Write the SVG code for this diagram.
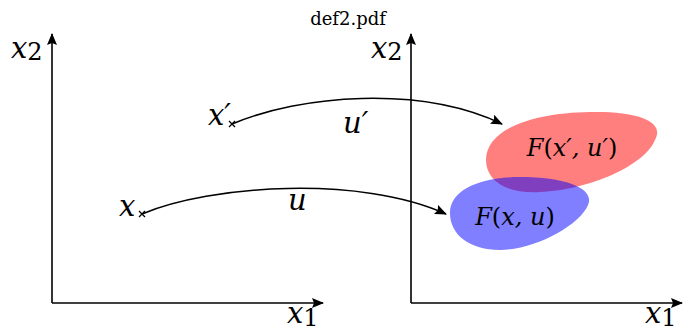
<svg xmlns="http://www.w3.org/2000/svg" width="697" height="333" viewBox="0 0 697 333">
<style>
.ax{stroke:#000;stroke-width:1.6;fill:none}
.cv{stroke:#000;stroke-width:1.5;fill:none}
.cr{stroke:#000;stroke-width:1.3}
</style>
<defs>
<marker id="ah" viewBox="0 0 12 10" refX="11" refY="5" markerWidth="12" markerHeight="10" markerUnits="userSpaceOnUse" orient="auto">
<path d="M0,0 L12,5 L0,10 L2,5 Z" fill="#000"/>
</marker>
</defs>
<rect width="697" height="333" fill="#fff"/>
<g font-family="'DejaVu Serif', 'Liberation Serif', serif" fill="#000">
<text x="348" y="25" font-size="18" text-anchor="middle">def2.pdf</text>
</g>
<g id="left-axes" font-family="'DejaVu Serif', 'Liberation Serif', serif" fill="#000">
<path class="ax" d="M52,303 L52,34" marker-end="url(#ah)"/>
<path class="ax" d="M52,303 L323,303" marker-end="url(#ah)"/>
<text x="11" y="58" font-size="29" font-style="italic">x<tspan font-style="normal" font-size="24" dy="2">2</tspan></text>
<text x="287" y="323" font-size="29" font-style="italic">x<tspan font-style="normal" font-size="24" dy="3">1</tspan></text>
</g>
<g id="right-axes" font-family="'DejaVu Serif', 'Liberation Serif', serif" fill="#000">
<path class="ax" d="M411,303 L411,34" marker-end="url(#ah)"/>
<path class="ax" d="M411,303 L682,303" marker-end="url(#ah)"/>
<text x="371" y="58" font-size="29" font-style="italic">x<tspan font-style="normal" font-size="24" dy="2">2</tspan></text>
<text x="645" y="323" font-size="29" font-style="italic">x<tspan font-style="normal" font-size="24" dy="3">1</tspan></text>
</g>
<g id="set-Fxpup">
<path d="M486,160 C486,130 530,113 590,112 C640,111 665,122 655,140 C645,165 590,190 540,192 C505,194 486,180 486,160 Z" fill="#ff0000" fill-opacity="0.5"/>
</g>
<g id="set-Fxu">
<path d="M450,213 C450,190 480,177 520,177 C570,177 595,190 588,205 C580,225 535,250 500,250 C470,250 450,235 450,213 Z" fill="#0000ff" fill-opacity="0.5"/>
</g>
<g font-family="'DejaVu Serif', 'Liberation Serif', serif" fill="#000" font-size="24" text-anchor="middle">
<text x="572" y="156" font-style="italic">F<tspan font-style="normal">(</tspan>x′, u′<tspan font-style="normal">)</tspan></text>
<text x="515" y="225" font-style="italic">F<tspan font-style="normal">(</tspan>x, u<tspan font-style="normal">)</tspan></text>
</g>
<g id="point-xp" font-family="'DejaVu Serif', 'Liberation Serif', serif" fill="#000">
<path class="cr" d="M229,121 L235,127 M235,121 L229,127"/>
<text x="208" y="125" font-size="29" font-style="italic">x′</text>
</g>
<g id="point-x" font-family="'DejaVu Serif', 'Liberation Serif', serif" fill="#000">
<path class="cr" d="M139,211 L145,217 M145,211 L139,217"/>
<text x="119" y="216" font-size="29" font-style="italic">x</text>
</g>
<g id="connectors" font-family="'DejaVu Serif', 'Liberation Serif', serif" fill="#000">
<path class="cv" d="M232,124 C300,95 420,85 502,124" marker-end="url(#ah)"/>
<path class="cv" d="M142,214 C210,185 360,175 446,214" marker-end="url(#ah)"/>
<text x="343" y="133" font-size="29" font-style="italic">u′</text>
<text x="288" y="210" font-size="29" font-style="italic">u</text>
</g>
</svg>
